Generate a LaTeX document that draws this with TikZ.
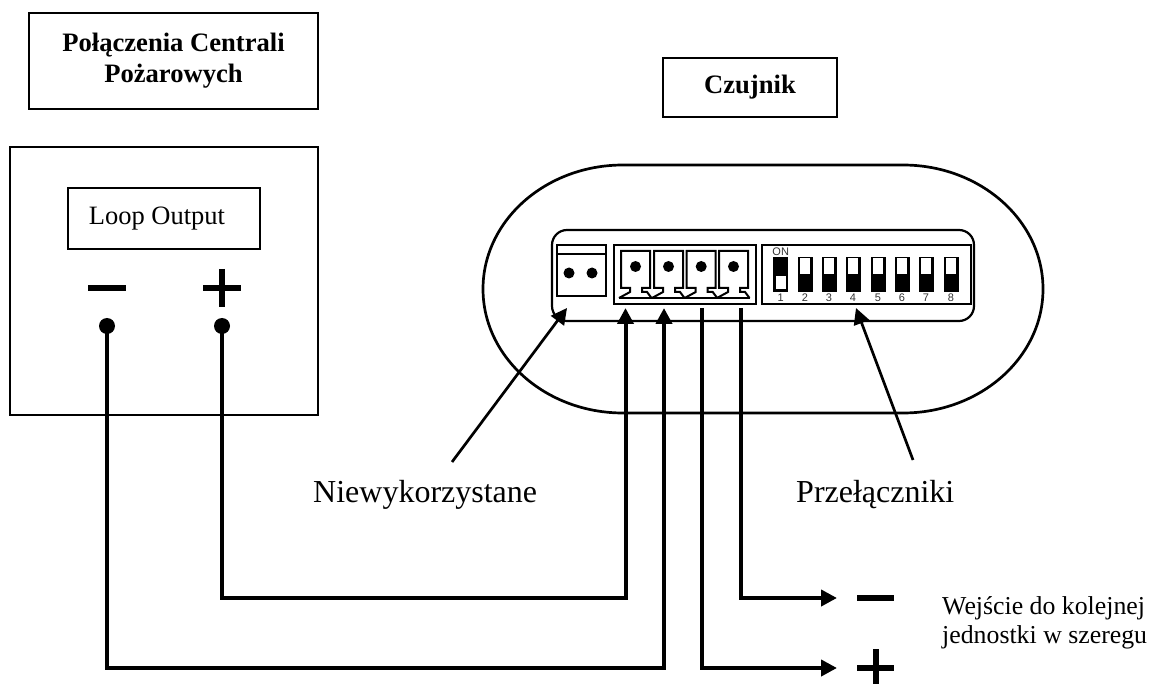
\documentclass[tikz,border=0pt]{standalone}
\usepackage{fontspec}
\setmainfont{Liberation Serif}
\newfontfamily\switchfont{Liberation Sans}
\usetikzlibrary{arrows.meta}

\tikzset{
  x = 1pt, y = -1pt,
  frameBox/.style = {rectangle, draw, line width = 2.2pt, inner sep = 0pt, align = center},
  titleText/.style = {font = \fontsize{26.6}{31}\selectfont\bfseries},
  bigText/.style = {inner sep = 0pt, font = \fontsize{32}{36}\selectfont},
  smallText/.style = {inner sep = 0pt, align = left, font = \fontsize{25.8}{29}\selectfont},
  signBar/.style = {line width = 6pt},
  pointer/.style = {-{Triangle[length = 16pt, width = 16pt]}, line width = 4pt},
  thinPointer/.style = {-{Triangle[length = 16pt, width = 16pt]}, line width = 2.7pt},
  switchNum/.style = {inner sep = 0pt, text = black!80, font = \switchfont\fontsize{11}{11}\selectfont}
}

\begin{document}
\begin{tikzpicture}
  \useasboundingbox (0, 0) rectangle (1156, 684);

  % titles and panel
  \node[frameBox, titleText, minimum width = 289pt, minimum height = 96pt] (titleNode) at (173.5, 61) {Połączenia Centrali\\Pożarowych};
  \node[frameBox, titleText, minimum width = 174pt, minimum height = 59pt] (sensorTitle) at (750, 87.5) {\raisebox{-2pt}{Czujnik}};
  \node[frameBox, minimum width = 308pt, minimum height = 268pt] (panelNode) at (164, 281) {};
  \node[frameBox, font = \fontsize{26.5}{30}\selectfont, minimum width = 192pt, minimum height = 61pt] (loopNode) at (164, 218.5) {\raisebox{-2pt}{Loop Output}\hspace{14pt}};

  % signs
  \draw[signBar] (88, 288) -- (126, 288);
  \draw[signBar] (203, 288) -- (241, 288);
  \draw[signBar] (222, 269) -- (222, 307);
  \draw[signBar] (857, 598) -- (894, 598);
  \draw[signBar] (857, 668) -- (894, 668);
  \draw[signBar] (875.5, 649) -- (875.5, 684);

  % sensor body
  \draw[line width = 2.7pt] (623, 165) arc[start angle = 90, end angle = 180, x radius = 140pt, y radius = 124pt]
    arc[start angle = 180, end angle = 270, x radius = 140pt, y radius = 124pt] -- (903, 413)
    arc[start angle = 270, end angle = 360, x radius = 140pt, y radius = 124pt]
    arc[start angle = 0, end angle = 90, x radius = 140pt, y radius = 124pt] -- cycle;
  \draw[line width = 2.2pt, rounded corners = 15pt] (552, 230) rectangle (974, 321);

  % unused terminal
  \node[frameBox, minimum width = 49pt, minimum height = 51pt] (unusedBlock) at (581.5, 270.5) {};
  \draw[line width = 2.2pt] (557, 254) -- (606, 254);
  \fill (569, 273) circle (5.5pt) (592, 273) circle (5.5pt);

  % loop terminals
  \node[frameBox, minimum width = 142pt, minimum height = 59pt] (terminalBlock) at (685, 274.5) {};
  \foreach \tx in {621, 654, 686.7, 719} {
    \draw[line width = 2pt, line join = miter] (\tx - 2, 298) -- (\tx + 9, 292) -- (\tx + 9, 288) -- (\tx, 288) -- (\tx, 251) -- (\tx + 29, 251) -- (\tx + 29, 288) -- (\tx + 21, 288) -- (\tx + 21, 292) -- (\tx + 26, 292) -- (\tx + 30.5, 298);
    \fill (\tx + 14.5, 266.5) circle (5.5pt);
  }
  \draw[line width = 2pt] (619, 298) -- (750, 298);

  % switches
  \node[frameBox, minimum width = 209pt, minimum height = 59pt] (switchBlock) at (866.5, 274.5) {};
  \foreach \sx [count = \sn] in {780.7, 805, 829, 853, 878, 902, 926, 951} {
    \fill (\sx - 7.5, 257) rectangle (\sx + 7.5, 292);
    \ifnum\sn=1
      \fill[white] (\sx - 5, 276) rectangle (\sx + 5, 289);
    \else
      \fill[white] (\sx - 5, 258.5) rectangle (\sx + 5, 274);
    \fi
    \node[switchNum] (num\sn) at (\sx, 297.5) {\sn};
  }
  \node[switchNum] (onLabel) at (780.7, 252) {ON};

  % labels
  \node[bigText, anchor = west] (unusedLabel) at (313, 495) {Niewykorzystane};
  \node[bigText, anchor = west] (switchLabel) at (796, 495) {Przełączniki};
  \node[smallText, anchor = west] (nextLabel) at (942, 622.5) {Wejście do kolejnej\\jednostki w szeregu};

  % connection points
  \coordinate (minusPin) at (107, 326);
  \coordinate (plusPin) at (222, 326);
  \coordinate (inOne) at (625.5, 308);
  \coordinate (inTwo) at (664, 308);
  \coordinate (outOne) at (702, 308);
  \coordinate (outTwo) at (741, 308);
  \coordinate (minusOut) at (837, 598);
  \coordinate (plusOut) at (837, 668);
  \coordinate (unusedTip) at (567, 308);
  \coordinate (unusedTail) at (452, 462);
  \coordinate (switchTip) at (856, 308);
  \coordinate (switchTail) at (913, 460);

  \fill (minusPin) circle (8pt) (plusPin) circle (8pt);
  \draw[pointer] (plusPin) |- (625.5, 598) -- (inOne);
  \draw[pointer] (minusPin) |- (664, 668) -- (inTwo);
  \draw[pointer] (outTwo) |- (minusOut);
  \draw[pointer] (outOne) |- (plusOut);
  \draw[thinPointer] (unusedTail) -- (unusedTip);
  \draw[thinPointer] (switchTail) -- (switchTip);
\end{tikzpicture}
\end{document}
